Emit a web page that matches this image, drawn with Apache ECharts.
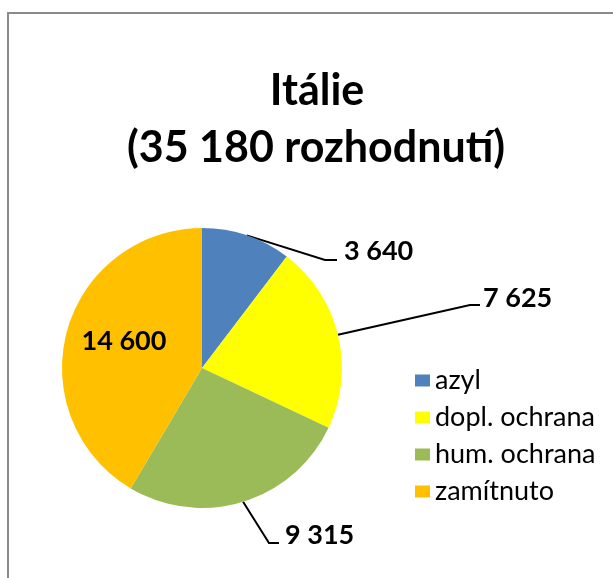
<!DOCTYPE html>
<html><head><meta charset="utf-8">
<script src="https://cdn.jsdelivr.net/npm/echarts@6/dist/echarts.min.js"></script>
<style>html,body{margin:0;padding:0;background:#fff}#c{width:613px;height:578px}</style>
</head><body><div id="c"></div>
<script>
// ---- data ----
const categories = ['azyl', 'dopl. ochrana', 'hum. ochrana', 'zamítnuto'];
const values = [3640, 7625, 9315, 14600];
const colors = ['#4F81BD', '#FFFF00', '#9BBB59', '#FFC000'];
const countryName = 'Itálie';
const decisionWord = 'rozhodnutí';

// ---- helpers ----
function fmt(v) { return String(v).replace(/\B(?=(\d{3})+(?!\d))/g, ' '); }
const total = values.reduce((a, b) => a + b, 0);
const FONT = 'Lato, "Open Sans", sans-serif';

// label placement (layout only)
const labelPos = [
  { x: 344, y: 251, bend: [325, 260], end: [337, 260] },
  { x: 483, y: 298, bend: [470, 305], end: [480, 305] },
  { x: 285, y: 535, bend: [269, 543], end: [279, 543] },
  { x: 124, y: 341, align: 'center' }
];

const data = categories.map((c, i) => {
  const d = { name: c, value: values[i], itemStyle: { color: colors[i] } };
  if (i === 3) { d.label = { position: 'inside' }; d.labelLine = { show: false }; }
  return d;
});

const chart = echarts.init(document.getElementById('c'), null, { renderer: 'canvas' });
chart.setOption({
  animation: false,
  backgroundColor: '#ffffff',
  graphic: [
    { type: 'rect', shape: { x: 8, y: 13, width: 700, height: 700 },
      style: { fill: 'none', stroke: '#8a8a8a', lineWidth: 2 }, z: 0, silent: true },
    { type: 'text', x: 317, y: 91, z: 10,
      style: { text: countryName, align: 'center', verticalAlign: 'middle', font: 'bold 43px ' + FONT, fill: '#000' } },
    { type: 'text', x: 316, y: 148, z: 10,
      style: { text: '(' + fmt(total) + ' ' + decisionWord + ')', align: 'center', verticalAlign: 'middle', font: 'bold 43px ' + FONT, fill: '#000' } }
  ],
  legend: {
    orient: 'vertical',
    left: 410,
    top: 362,
    itemWidth: 15,
    itemHeight: 12,
    itemGap: 10,
    icon: 'rect',
    data: categories,
    textStyle: { fontFamily: FONT, fontSize: 27, color: '#000', lineHeight: 27, padding: [0, 0, 0, 0] },
    selectedMode: false
  },
  series: [{
    type: 'pie',
    center: [202, 368],
    radius: 140,
    startAngle: 90,
    clockwise: true,
    avoidLabelOverlap: false,
    itemStyle: { borderWidth: 0 },
    emphasis: { disabled: true },
    label: {
      show: true,
      position: 'outside',
      formatter: p => fmt(p.value),
      fontFamily: FONT,
      fontWeight: 'bold',
      fontSize: 27,
      color: '#000'
    },
    labelLine: { show: true, length: 20, length2: 10, lineStyle: { color: '#000', width: 2 } },
    labelLayout: function (params) {
      const p = labelPos[params.dataIndex];
      const out = { x: p.x, y: p.y, align: p.align || 'left', verticalAlign: 'middle' };
      if (p.bend && params.labelLinePoints) {
        out.labelLinePoints = [params.labelLinePoints[0], p.bend, p.end];
      }
      return out;
    },
    data: data
  }]
});
</script>
</body></html>
